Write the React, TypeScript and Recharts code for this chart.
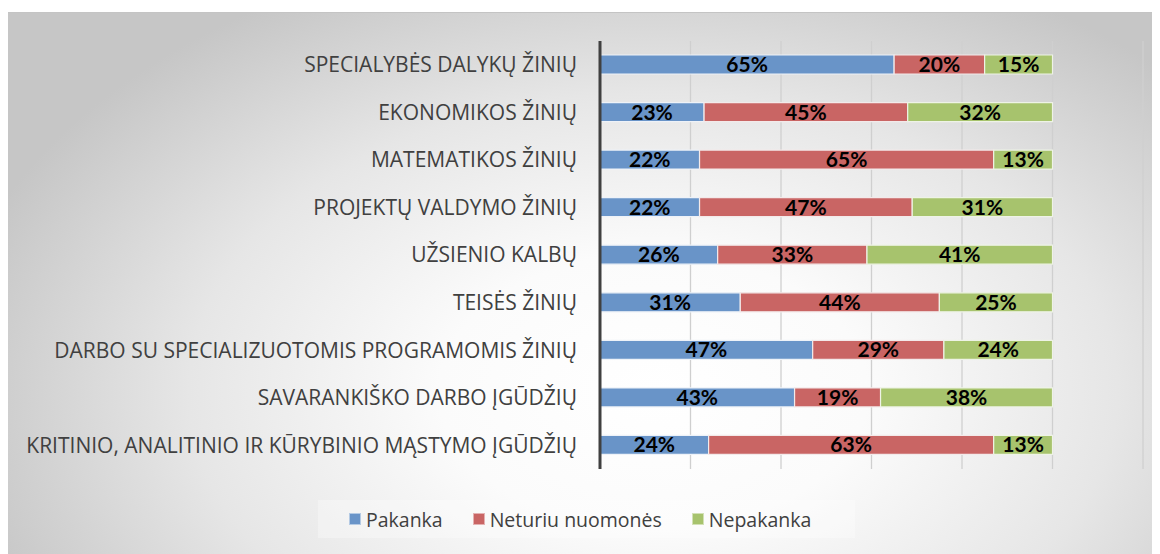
import React from "react";
import { BarChart, Bar, XAxis, YAxis, CartesianGrid, LabelList } from "recharts";

const categories = [
  "SPECIALYBĖS DALYKŲ ŽINIŲ",
  "EKONOMIKOS ŽINIŲ",
  "MATEMATIKOS ŽINIŲ",
  "PROJEKTŲ VALDYMO ŽINIŲ",
  "UŽSIENIO KALBŲ",
  "TEISĖS ŽINIŲ",
  "DARBO SU SPECIALIZUOTOMIS PROGRAMOMIS ŽINIŲ",
  "SAVARANKIŠKO DARBO ĮGŪDŽIŲ",
  "KRITINIO, ANALITINIO IR KŪRYBINIO MĄSTYMO ĮGŪDŽIŲ",
];
const pakanka = [65, 23, 22, 22, 26, 31, 47, 43, 24];
const neturiu = [20, 45, 65, 47, 33, 44, 29, 19, 63];
const nepakanka = [15, 32, 13, 31, 41, 25, 24, 38, 13];
const xTicks = [0, 20, 40, 60, 80, 100, 120];

const seriesNames = ["Pakanka", "Neturiu nuomonės", "Nepakanka"];
const colors = ["#6994c8", "#c96564", "#a7c36d"];

const data = categories.map((c, i) => ({
  cat: c,
  pakanka: pakanka[i],
  neturiu: neturiu[i],
  nepakanka: nepakanka[i],
}));

const FONT = "'Open Sans', Lato, sans-serif";
const LABEL_FONT = "Lato, 'Open Sans', sans-serif";

const fmt = (v: any) => `${v}%`;

const LegendBox = () => (
  <>
    <div
      style={{
        position: "absolute",
        left: 310,
        top: 492,
        width: 537,
        height: 38,
        background: "rgba(255,255,255,0.3)",
      }}
    />
    <div
      style={{
        position: "absolute",
        left: 341,
        top: 492,
        height: 38,
        display: "flex",
        alignItems: "center",
        fontFamily: FONT,
        fontSize: 19.5,
        color: "#404040",
        whiteSpace: "nowrap",
      }}
    >
      {seriesNames.map((n, i) => (
        <span key={n} style={{ display: "flex", alignItems: "center", marginRight: i < 2 ? 30 : 0 }}>
          <span
            style={{
              display: "inline-block",
              width: 10,
              height: 10,
              background: colors[i],
              border: "1px solid rgba(255,255,255,0.5)",
              marginRight: 5,
            }}
          />
          {n}
        </span>
      ))}
    </div>
  </>
);

export default function App() {
  return (
    <div style={{ position: "relative", width: 1152, height: 546 }}>
      <div
        style={{
          position: "absolute",
          left: 0,
          top: 4,
          right: 0,
          bottom: 0,
          borderTop: "1px solid #c4c4c4",
          background:
            "radial-gradient(ellipse 62% 85% at 56% 70%, #ffffff 0%, #fbfbfb 30%, #e6e6e6 65%, #c6c6c6 100%)",
        }}
      />
      <LegendBox />
      <div style={{ position: "absolute", left: 0, top: 0 }}>
        <BarChart
          width={1152}
          height={546}
          data={data}
          layout="vertical"
          margin={{ top: 33, right: 17, bottom: 85, left: 0 }}
          barCategoryGap={0}
        >
          <CartesianGrid horizontal={false} vertical={true} stroke="#cfcfcf" strokeWidth={1.3} />
          <XAxis type="number" domain={[0, 120]} ticks={xTicks} hide />
          <YAxis
            type="category"
            dataKey="cat"
            width={592}
            axisLine={{ stroke: "#404040", strokeWidth: 3 }}
            tickLine={false}
            tickSize={0}
            tickMargin={23}
            tick={{ fill: "#404040", fontSize: 21, fontFamily: FONT }}
            interval={0}
          />
          <Bar dataKey="pakanka" stackId="a" fill={colors[0]} barSize={19} stroke="#eef2f8" strokeWidth={1.2} isAnimationActive={false}>
            <LabelList dataKey="pakanka" position="center" formatter={fmt} fill="#000" fontSize={21} fontWeight="bold" fontFamily={LABEL_FONT} />
          </Bar>
          <Bar dataKey="neturiu" stackId="a" fill={colors[1]} barSize={19} stroke="#f3eaea" strokeWidth={1.2} isAnimationActive={false}>
            <LabelList dataKey="neturiu" position="center" formatter={fmt} fill="#000" fontSize={21} fontWeight="bold" fontFamily={LABEL_FONT} />
          </Bar>
          <Bar dataKey="nepakanka" stackId="a" fill={colors[2]} barSize={19} stroke="#eef3e6" strokeWidth={1.2} isAnimationActive={false}>
            <LabelList dataKey="nepakanka" position="center" formatter={fmt} fill="#000" fontSize={21} fontWeight="bold" fontFamily={LABEL_FONT} />
          </Bar>
        </BarChart>
      </div>
    </div>
  );
}
